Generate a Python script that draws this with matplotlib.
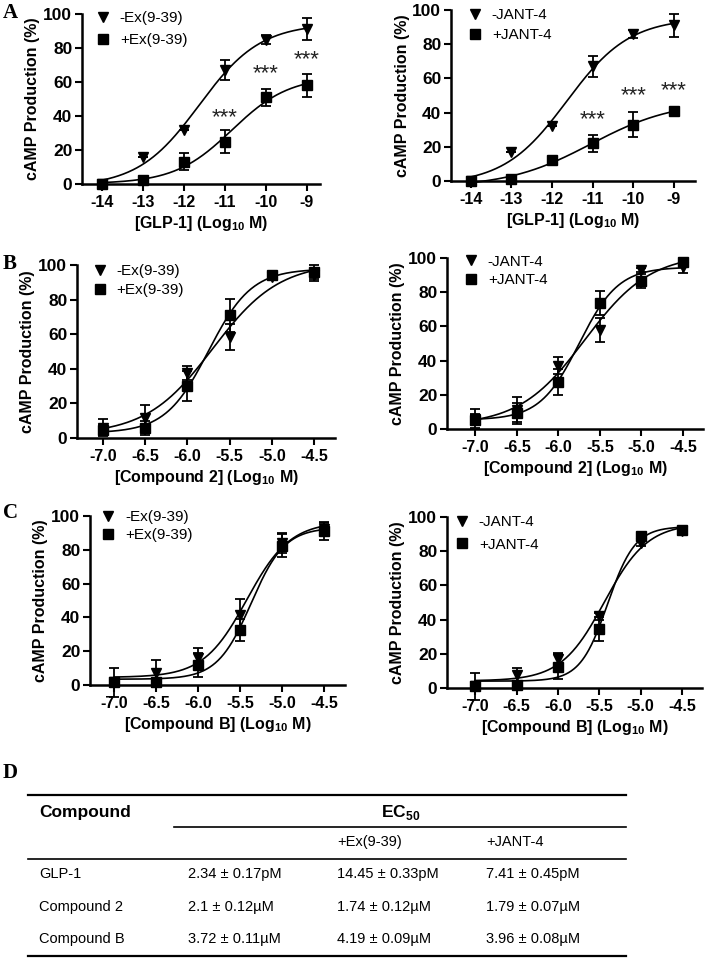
import numpy as np
import matplotlib
matplotlib.use('Agg')
import matplotlib.pyplot as plt
from matplotlib.lines import Line2D

plt.rcParams['font.family'] = ['Liberation Sans', 'DejaVu Sans']
plt.rcParams['mathtext.fontset'] = 'custom'
plt.rcParams['mathtext.rm'] = 'Liberation Sans'
plt.rcParams['mathtext.bf'] = 'Liberation Sans:bold'

# ----------------------------- data -----------------------------
glp_x = [-14, -13, -12, -11, -10, -9]
cmp_x = [-7.0, -6.5, -6.0, -5.5, -5.0, -4.5]

a_ex_minus = [0, 16, 31.5, 67, 85, 91]
a_ex_minus_err = [0, 0, 0, 6, 2.5, 6.5]
a_ex_plus = [0, 2.5, 13, 25, 51, 58]
a_ex_plus_err = [0, 1, 5, 6.5, 5, 7]
a_jant_minus = [0, 17, 32, 67, 86, 91]
a_jant_minus_err = [0, 0, 0, 6, 2.5, 6.5]
a_jant_plus = [0, 1, 12, 22, 33, 41]
a_jant_plus_err = [0, 0, 1.5, 5, 7.5, 0.5]

b_ex_minus = [6, 11.5, 37.5, 58.5, 93, 94]
b_ex_minus_err = [5, 7.5, 4, 7.5, 1, 3.5]
b_ex_plus = [4.5, 6, 30, 71, 94.5, 96]
b_ex_plus_err = [3, 4, 8.5, 9.5, 1, 4]
b_jant_minus = [6, 11, 37, 58, 93, 95]
b_jant_minus_err = [5.5, 8, 5, 7, 1, 4]
b_jant_plus = [5.5, 9.5, 27.5, 73.5, 86.5, 97.5]
b_jant_plus_err = [3, 5.5, 7.5, 7, 4, 1]

c_ex_minus = [2, 7, 16, 41.5, 84, 92.5]
c_ex_minus_err = [1, 8, 6, 9.5, 6, 4]
c_ex_plus = [1.5, 2, 12, 32.5, 82.5, 91]
c_ex_plus_err = [8.5, 1, 7, 6.5, 7, 5]
c_jant_minus = [1, 7.5, 17, 42, 85, 92]
c_jant_minus_err = [1, 4, 3.5, 2, 2, 1]
c_jant_plus = [1, 2, 12.5, 34.5, 89, 92.5]
c_jant_plus_err = [8, 1, 7.5, 7, 1, 1]

star_x = [-11, -10, -9]
star_ex_y = [39, 65, 73]
star_jant_y = [36, 50, 53]

table_cols = ['Compound', 'EC$_{\\mathbf{50}}$', '+Ex(9-39)', '+JANT-4']
table_rows = [
    ['GLP-1', '2.34 \u00b1 0.17pM', '14.45 \u00b1 0.33pM', '7.41 \u00b1 0.45pM'],
    ['Compound 2', '2.1 \u00b1 0.12\u00b5M', '1.74 \u00b1 0.12\u00b5M', '1.79 \u00b1 0.07\u00b5M'],
    ['Compound B', '3.72 \u00b1 0.11\u00b5M', '4.19 \u00b1 0.09\u00b5M', '3.96 \u00b1 0.08\u00b5M'],
]


def fit_4pl(x, y):
    # brute force sigmoid fit: grid over logEC50 / hill, linear LS for bottom/top
    x = np.asarray(x, float)
    y = np.asarray(y, float)
    hills = np.arange(0.3, 3.01, 0.02)
    mids = np.arange(x.min() - 1, x.max() + 1, 0.01)
    H, C = np.meshgrid(hills, mids, indexing='ij')
    s = 1.0 / (1.0 + 10 ** ((C[..., None] - x) * H[..., None]))
    sm = s.mean(-1, keepdims=True)
    ym = y.mean()
    a = ((s - sm) * (y - ym)).sum(-1) / ((s - sm) ** 2).sum(-1)
    b = ym - a * sm[..., 0]
    sse = ((y - b[..., None] - a[..., None] * s) ** 2).sum(-1)
    i = np.unravel_index(np.argmin(sse), sse.shape)
    return b[i], a[i], C[i], H[i]


def curve(ax, x, y):
    bot, amp, mid, hill = fit_4pl(x, y)
    xs = np.linspace(min(x), max(x), 300)
    ax.plot(xs, bot + amp / (1 + 10 ** ((mid - xs) * hill)), color='black', lw=1.2,
            clip_on=False, zorder=2)


def panel(rect, x, y1, e1, y2, e2, labels, xlim, xticks, xticklabels, xlabel, leg_anchor, leg_space):
    ax = fig.add_axes(rect)
    curve(ax, x, y1)
    curve(ax, x, y2)
    ax.errorbar(x, y1, yerr=e1, fmt='v', color='black', ms=7.5, capsize=3.6, elinewidth=1.3,
                capthick=1.3, clip_on=False, zorder=3)
    ax.errorbar(x, y2, yerr=e2, fmt='s', color='black', ms=7, capsize=3.6, elinewidth=1.3,
                capthick=1.3, clip_on=False, zorder=3)
    ax.set_xlim(*xlim)
    ax.set_ylim(0, 100)
    ax.set_xticks(xticks)
    ax.set_xticklabels(xticklabels)
    ax.set_yticks([0, 20, 40, 60, 80, 100])
    for s in ['top', 'right']:
        ax.spines[s].set_visible(False)
    for s in ['left', 'bottom']:
        ax.spines[s].set_linewidth(1.8)
    ax.tick_params(direction='out', length=5, width=1.5, pad=3)
    ax.tick_params(axis='x', labelsize=11.5)
    ax.tick_params(axis='y', labelsize=12.5, pad=2)
    for t in ax.get_xticklabels() + ax.get_yticklabels():
        t.set_fontweight('bold')
    ax.set_ylabel('cAMP Production (%)', fontsize=11.5, fontweight='bold', labelpad=2)
    ax.set_xlabel(xlabel, fontsize=11.5, fontweight='bold', labelpad=3)
    handles = [Line2D([], [], marker='v', ls='none', color='black', ms=7.5),
               Line2D([], [], marker='s', ls='none', color='black', ms=7)]
    ax.legend(handles, labels, loc='upper left', bbox_to_anchor=leg_anchor, frameon=False,
              fontsize=11, borderpad=0, borderaxespad=0, handlelength=1.0, handletextpad=0.6,
              labelspacing=leg_space)
    return ax


W, H = 707, 959
fig = plt.figure(figsize=(W / 100, H / 100), dpi=100)


def px_rect(x0, x1, ytop, ybot):
    return [x0 / W, 1 - ybot / H, (x1 - x0) / W, (ybot - ytop) / H]


ex_labels = ['-Ex(9-39)', '+Ex(9-39)']
jant_labels = ['-JANT-4', '+JANT-4']
glp_label = r'[GLP-1] (Log$_{\mathbf{10}}$ M)'
c2_label = r'[Compound 2] (Log$_{\mathbf{10}}$ M)'
cb_label = r'[Compound B] (Log$_{\mathbf{10}}$ M)'
glp_ticks = ['-14', '-13', '-12', '-11', '-10', '-9']
cmp_ticks = ['-7.0', '-6.5', '-6.0', '-5.5', '-5.0', '-4.5']

ax1 = panel(px_rect(82, 320, 14, 184), glp_x, a_ex_minus, a_ex_minus_err, a_ex_plus, a_ex_plus_err,
            ex_labels, (-14.49, -8.68), glp_x, glp_ticks, glp_label, (0.056, 1.016), 0.5)
ax2 = panel(px_rect(451, 695, 10, 181), glp_x, a_jant_minus, a_jant_minus_err, a_jant_plus, a_jant_plus_err,
            jant_labels, (-14.49, -8.48), glp_x, glp_ticks, glp_label, (0.067, 1.01), 0.37)
for sx, sy in zip(star_x, star_ex_y):
    ax1.text(sx, sy, '***', ha='center', va='center', fontsize=16, color='#222222')
for sx, sy in zip(star_x, star_jant_y):
    ax2.text(sx, sy, '***', ha='center', va='center', fontsize=16, color='#222222')

panel(px_rect(77, 335, 265, 438), cmp_x, b_ex_minus, b_ex_minus_err, b_ex_plus, b_ex_plus_err,
      ex_labels, (-7.31, -4.25), cmp_x, cmp_ticks, c2_label, (0.059, 1.004), 0.3)
panel(px_rect(447, 703, 258, 429), cmp_x, b_jant_minus, b_jant_minus_err, b_jant_plus, b_jant_plus_err,
      jant_labels, (-7.34, -4.26), cmp_x, cmp_ticks, c2_label, (0.064, 1.02), 0.3)
panel(px_rect(90, 345, 516, 685), cmp_x, c_ex_minus, c_ex_minus_err, c_ex_plus, c_ex_plus_err,
      ex_labels, (-7.29, -4.25), cmp_x, cmp_ticks, cb_label, (0.041, 1.034), 0.25)
panel(px_rect(447, 702, 517, 688), cmp_x, c_jant_minus, c_jant_minus_err, c_jant_plus, c_jant_plus_err,
      jant_labels, (-7.34, -4.26), cmp_x, cmp_ticks, cb_label, (0.029, 1.01), 0.55)

# panel letters
for letter, y in [('A', 13), ('B', 264), ('C', 513), ('D', 773)]:
    fig.text(3 / W, 1 - y / H, letter, fontsize=15, fontweight='bold', family='Liberation Serif',
             va='center', ha='left')

# ----------------------------- table D -----------------------------
def hline(x0, x1, y, lw=1.5):
    fig.add_artist(Line2D([x0 / W, x1 / W], [1 - y / H, 1 - y / H], color='black', lw=lw))


hline(28, 626, 795, 1.6)
hline(174, 626, 827, 1.2)
hline(28, 626, 859, 1.2)
hline(28, 626, 956, 1.6)

col_x = [39, 188, 337, 486]
fig.text(col_x[0] / W, 1 - 812 / H, table_cols[0], fontsize=12.5, fontweight='bold', va='center')
fig.text(401 / W, 1 - 812 / H, table_cols[1], fontsize=12.5, fontweight='bold', va='center', ha='center')
fig.text(col_x[2] / W, 1 - 842 / H, table_cols[2], fontsize=10.5, va='center')
fig.text(col_x[3] / W, 1 - 842 / H, table_cols[3], fontsize=10.5, va='center')
for row, y in zip(table_rows, [874, 907, 939]):
    for cx, val in zip(col_x, row):
        fig.text(cx / W, 1 - y / H, val, fontsize=10.5, va='center')

fig.savefig('out.png', dpi=100)
